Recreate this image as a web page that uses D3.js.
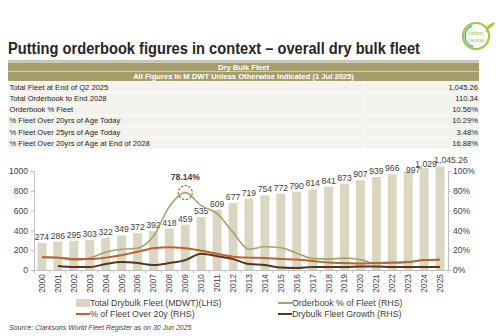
<!DOCTYPE html>
<html>
<head>
<meta charset="utf-8">
<script src="https://cdn.jsdelivr.net/npm/d3@7"></script>
<style>
  html, body { margin: 0; padding: 0; background: #fff; }
  svg { display: block; font-family: "Liberation Sans", Arial, sans-serif; }
</style>
</head>
<body>
<svg id="chart" width="500" height="336"></svg>
<script>
// fleet summary rows
const tableLabels = [
  "Total Fleet at End of Q2 2025",
  "Total Orderbook to End 2028",
  "Orderbook % Fleet",
  "% Fleet Over 20yrs of Age Today",
  "% Fleet Over 25yrs of Age Today",
  "% Fleet Over 20yrs of Age at End of 2028"
];
const tableValues = ["1,045.26", "110.34", "10.56%", "10.29%", "3.48%", "16.88%"];

// yearly series
const years = d3.range(2000, 2026).map(String);
const fleetSize = [274, 286, 295, 303, 322, 349, 372, 392, 418, 459, 535, 609, 677, 719,
  754, 772, 790, 814, 841, 873, 907, 939, 966, 997, 1029, 1045.26];
const fleetLabels = ["274", "286", "295", "303", "322", "349", "372", "392", "418", "459",
  "535", "609", "677", "719", "754", "772", "790", "814", "841", "873", "907", "939",
  "966", "997", "1,029", "1,045.26"];
const orderbookPct = [13, 12.5, 10, 12, 18, 21, 22, 34, 64, 78.14, 65, 57, 38, 21, 23.5,
  22.5, 17, 11.5, 11, 12, 10.5, 6.5, 7, 8, 10, 10.56];
const over20Pct = [13, 12.5, 11, 11, 12.5, 15, 18.5, 22, 23, 22, 19.5, 16.5, 13.5, 12.5,
  12, 11, 10.5, 9, 7.5, 7, 6.5, 7, 7.5, 8, 10, 10.29];
const growthPct = [null, 4, 3, 3, 6, 8, 7, 5, 7, 10, 16.5, 14, 11, 6, 5, 2.5, 2, 3, 3,
  3, 3.5, 3.5, 3, 3, 3, 3];

const leftTicks = [0, 200, 400, 600, 800, 1000];
const rightTicks = [0, 20, 40, 60, 80, 100];
const peakLabel = "78.14%";

const svg = d3.select("#chart");

// ---- header ----
svg.append("text")
  .attr("x", 8).attr("y", 53.5)
  .attr("font-size", 15.6).attr("font-weight", "bold").attr("fill", "#262626")
  .attr("textLength", 412).attr("lengthAdjust", "spacingAndGlyphs")
  .text("Putting orderbook figures in context \u2013 overall dry bulk fleet");

svg.append("line")
  .attr("x1", 8).attr("x2", 479).attr("y1", 61).attr("y2", 61)
  .attr("stroke", "#8a8a8a").attr("stroke-width", 1.2);

// carbon neutral badge
const badge = svg.append("g").attr("transform", "translate(476,36)");
badge.append("circle").attr("r", 13).attr("fill", "#fff")
  .attr("stroke", "#9ccb3b").attr("stroke-width", 2.2);
badge.append("path")
  .attr("d", d3.arc()({innerRadius: 10.2, outerRadius: 11.6, startAngle: 3.4, endAngle: 5.9}))
  .attr("fill", "#2aa7d6");
badge.append("path")
  .attr("d", "M10,-3 C14,-11 18,-8 19,-14 C13,-12 9,-10 10,-3 Z")
  .attr("fill", "#9ccb3b");
badge.selectAll("text").data(["carbon", "neutral"]).join("text")
  .attr("x", 0).attr("y", (d, i) => -1.5 + i * 7)
  .attr("text-anchor", "middle").attr("font-size", 5).attr("fill", "#8cc63f")
  .text(d => d);

// ---- table ----
const tableX = 8, tableW = 471;
svg.append("rect").attr("x", tableX).attr("y", 62.5).attr("width", tableW).attr("height", 9)
  .attr("fill", "#a59e6c");
svg.append("rect").attr("x", tableX).attr("y", 72).attr("width", tableW).attr("height", 9)
  .attr("fill", "#a59e6c");
svg.append("text").attr("x", tableX + tableW / 2).attr("y", 70).attr("text-anchor", "middle")
  .attr("font-size", 7.6).attr("font-weight", "bold").attr("fill", "#fff").text("Dry Bulk Fleet");
svg.append("text").attr("x", tableX + tableW / 2).attr("y", 79.3).attr("text-anchor", "middle")
  .attr("font-size", 7.6).attr("font-weight", "bold").attr("fill", "#fff")
  .text("All Figures In M DWT Unless Otherwise Indicated (1 Jul 2025)");

const rowH = 11.2, rowY0 = 82;
const rows = svg.append("g").selectAll("g").data(tableLabels).join("g")
  .attr("transform", (d, i) => `translate(0,${rowY0 + i * rowH})`);
rows.append("rect").attr("x", tableX).attr("width", 355).attr("height", rowH - 0.8)
  .attr("fill", "#f4f2ec");
rows.append("rect").attr("x", 364).attr("width", tableX + tableW - 364).attr("height", rowH - 0.8)
  .attr("fill", "#f4f2ec");
rows.append("text").attr("x", 9.5).attr("y", 7.8)
  .attr("font-size", 7.6).attr("fill", "#262626").text(d => d);
rows.append("text").attr("x", 478).attr("y", 7.8).attr("text-anchor", "end")
  .attr("font-size", 7.6).attr("fill", "#262626").text((d, i) => tableValues[i]);

// ---- chart ----
const x = d3.scaleBand().domain(years).range([34, 448]).paddingInner(0.44).paddingOuter(0.22);
const yL = d3.scaleLinear().domain([0, 1000]).range([270, 171]);
const yR = d3.scaleLinear().domain([0, 100]).range([270, 171]);
const cx = d => x(d) + x.bandwidth() / 2;

const axisColor = "#bfbfbf";
const txt = "#404040";

// bars
svg.append("g").selectAll("rect").data(fleetSize).join("rect")
  .attr("x", (d, i) => x(years[i]))
  .attr("y", d => yL(d))
  .attr("width", x.bandwidth())
  .attr("height", d => yL(0) - yL(d))
  .attr("fill", "#d9d7c1");

// the last three labels are nudged right so they don't collide
const labelShift = {23: [5, 4.5], 24: [2, 2], 25: [11, -0.5]};
svg.append("g").selectAll("text").data(fleetSize).join("text")
  .attr("x", (d, i) => cx(years[i]) + (labelShift[i] ? labelShift[i][0] : 0))
  .attr("y", (d, i) => yL(d) - 3 + (labelShift[i] ? labelShift[i][1] : 0))
  .attr("text-anchor", "middle").attr("font-size", 8.6).attr("fill", txt)
  .text((d, i) => fleetLabels[i]);

// left axis
const gL = svg.append("g").attr("transform", "translate(34,0)")
  .call(d3.axisLeft(yL).tickValues(leftTicks).tickSize(3).tickFormat(d3.format("d")));
// right axis
const gR = svg.append("g").attr("transform", "translate(448,0)")
  .call(d3.axisRight(yR).tickValues(rightTicks).tickSize(3).tickFormat(d => d + "%"));
[gL, gR].forEach(g => {
  g.select(".domain").attr("stroke", axisColor);
  g.selectAll(".tick line").attr("stroke", axisColor);
  g.selectAll(".tick text").attr("font-size", 8.6).attr("fill", txt)
    .attr("font-family", "Liberation Sans, Arial, sans-serif");
});
gL.selectAll(".tick text").attr("x", -6);
gR.selectAll(".tick text").attr("x", 5);

// x axis
const gX = svg.append("g").attr("transform", "translate(0,270)")
  .call(d3.axisBottom(x).tickSize(0));
gX.select(".domain").attr("stroke", axisColor);
gX.selectAll(".tick text")
  .attr("transform", "rotate(-90)")
  .attr("x", -4).attr("y", 0).attr("dy", "0.35em")
  .attr("text-anchor", "end").attr("font-size", 8.4).attr("fill", txt)
  .attr("font-family", "Liberation Sans, Arial, sans-serif");
gX.selectAll(".sep").data(d3.range(years.length + 1)).join("line")
  .attr("class", "sep")
  .attr("x1", i => 34 + i * x.step()).attr("x2", i => 34 + i * x.step())
  .attr("y1", 0).attr("y2", 3).attr("stroke", axisColor);

// lines
const line = d3.line()
  .defined(d => d.v != null)
  .x(d => cx(d.year))
  .y(d => yR(d.v))
  .curve(d3.curveMonotoneX);
const series = [
  {values: orderbookPct, color: "#a3a46c", width: 1.6},
  {values: over20Pct, color: "#c0612b", width: 2},
  {values: growthPct, color: "#5b3420", width: 2}
];
svg.append("g").selectAll("path").data(series).join("path")
  .attr("d", s => line(s.values.map((v, i) => ({year: years[i], v}))))
  .attr("fill", "none")
  .attr("stroke", s => s.color)
  .attr("stroke-width", s => s.width);

// peak marker
const peakIdx = orderbookPct.indexOf(d3.max(orderbookPct));
svg.append("circle")
  .attr("cx", cx(years[peakIdx])).attr("cy", yR(orderbookPct[peakIdx]))
  .attr("r", 7).attr("fill", "none").attr("stroke", "#c0612b")
  .attr("stroke-width", 1.2).attr("stroke-dasharray", "2.5,1.5");
svg.append("text")
  .attr("x", cx(years[peakIdx])).attr("y", yR(orderbookPct[peakIdx]) - 13)
  .attr("text-anchor", "middle").attr("font-size", 8.6).attr("font-weight", "bold")
  .attr("fill", txt).text(peakLabel);

// legend
const legend = [
  {label: "Total Drybulk Fleet (MDWT)(LHS)", type: "bar", color: "#d9d7c1", x: 76, y: 303},
  {label: "Orderbook % of Fleet (RHS)", type: "line", color: "#a3a46c", x: 278, y: 303},
  {label: "% of Fleet Over 20y (RHS)", type: "line", color: "#c0612b", x: 76, y: 314},
  {label: "Drybulk Fleet Growth (RHS)", type: "line", color: "#5b3420", x: 278, y: 314}
];
const lg = svg.append("g").selectAll("g").data(legend).join("g")
  .attr("transform", d => `translate(${d.x},${d.y})`);
lg.filter(d => d.type === "bar").append("rect")
  .attr("x", 0).attr("y", -4).attr("width", 14).attr("height", 8).attr("fill", d => d.color);
lg.filter(d => d.type === "line").append("line")
  .attr("x1", 0).attr("x2", 14).attr("y1", 0).attr("y2", 0)
  .attr("stroke", d => d.color).attr("stroke-width", 2);
lg.append("text").attr("x", 14).attr("y", 3.2)
  .attr("font-size", 8.8).attr("fill", txt).text(d => d.label);

// source note
svg.append("text").attr("x", 9).attr("y", 330)
  .attr("font-size", 7).attr("font-style", "italic").attr("fill", "#404040")
  .text("Source: Clarksons World Fleet Register as on 30 Jun 2025");
</script>
</body>
</html>
